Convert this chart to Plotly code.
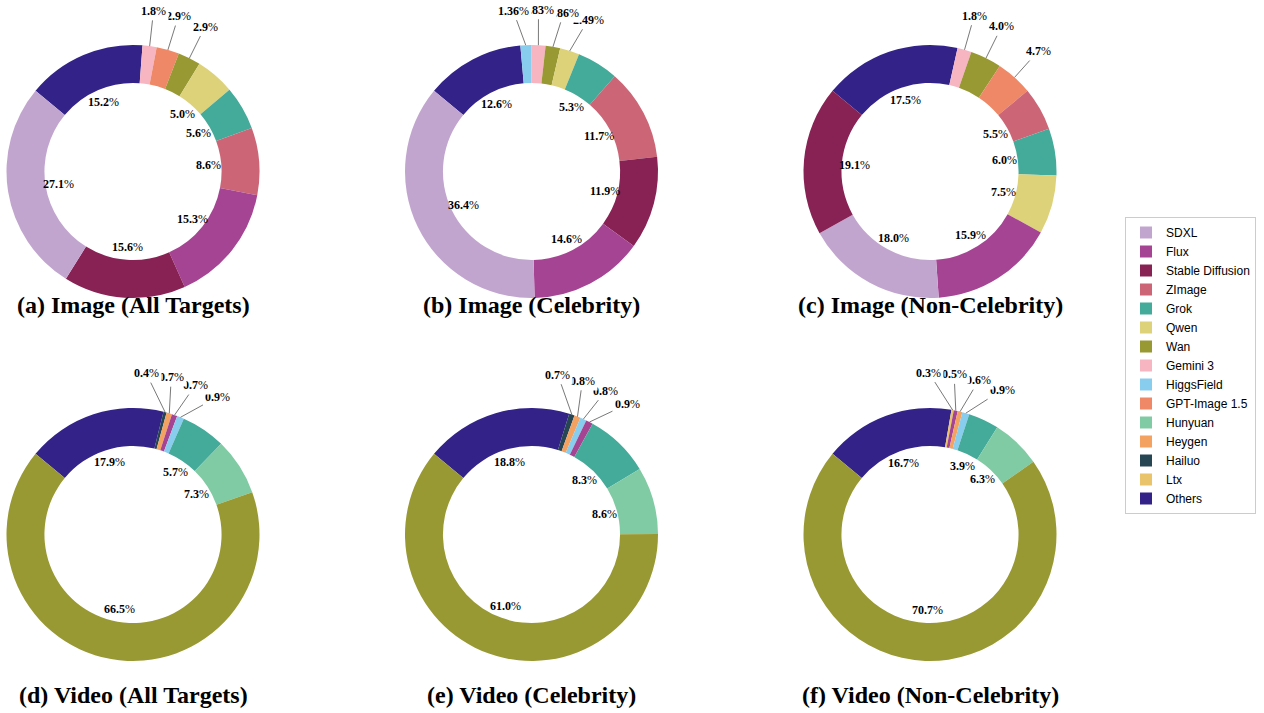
import math
import plotly.graph_objects as go

# ---------------- data ----------------
MODELS = ["SDXL", "Flux", "Stable Diffusion", "ZImage", "Grok", "Qwen", "Wan",
          "Gemini 3", "HiggsField", "GPT-Image 1.5", "Hunyuan", "Heygen",
          "Hailuo", "Ltx", "Others"]
COLORS = ["#C2A5CF", "#A64494", "#882255", "#CC6677", "#44AA99", "#DDD27A", "#999933",
          "#F7B4C1", "#88CCEE", "#EE8866", "#80CBA4", "#F4A261",
          "#264653", "#E9C46A", "#332288"]

TITLES = ["(a) Image (All Targets)", "(b) Image (Celebrity)", "(c) Image (Non-Celebrity)",
          "(d) Video (All Targets)", "(e) Video (Celebrity)", "(f) Video (Non-Celebrity)"]

A_LABELS = ["Others", "Gemini 3", "GPT-Image 1.5", "Wan", "Qwen", "Grok", "ZImage",
            "Flux", "Stable Diffusion", "SDXL"]
A_VALUES = [15.2, 1.8, 2.9, 2.9, 5.0, 5.6, 8.6, 15.3, 15.6, 27.1]

B_LABELS = ["Others", "HiggsField", "Gemini 3", "Wan", "Qwen", "Grok", "ZImage",
            "Stable Diffusion", "Flux", "SDXL"]
B_VALUES = [12.6, 1.36, 1.83, 1.86, 2.49, 5.3, 11.7, 11.9, 14.6, 36.4]

C_LABELS = ["Others", "Gemini 3", "Wan", "GPT-Image 1.5", "ZImage", "Grok", "Qwen",
            "Flux", "SDXL", "Stable Diffusion"]
C_VALUES = [17.5, 1.8, 4.0, 4.7, 5.5, 6.0, 7.5, 15.9, 18.0, 19.1]

D_LABELS = ["Others", "Hailuo", "Heygen", "Flux", "HiggsField", "Grok", "Hunyuan", "Wan"]
D_VALUES = [17.9, 0.4, 0.7, 0.7, 0.9, 5.7, 7.3, 66.5]

E_LABELS = ["Others", "Hailuo", "Heygen", "HiggsField", "Flux", "Grok", "Hunyuan", "Wan"]
E_VALUES = [18.8, 0.7, 0.8, 0.8, 0.9, 8.3, 8.6, 61.0]

F_LABELS = ["Others", "Ltx", "Flux", "Heygen", "HiggsField", "Grok", "Hunyuan", "Wan"]
F_VALUES = [16.7, 0.3, 0.5, 0.6, 0.9, 3.9, 6.3, 70.7]

CHARTS = [(A_LABELS, A_VALUES), (B_LABELS, B_VALUES), (C_LABELS, C_VALUES),
          (D_LABELS, D_VALUES), (E_LABELS, E_VALUES), (F_LABELS, F_VALUES)]
OUTSIDE_BELOW = [5, 5, 5, 2, 2, 2]   # values below this get an outside label

# ---------------- layout / style ----------------
W, H = 1264, 713
R = 126.5                 # donut outer radius, px
HOLE = 0.70
ROT = -50.4               # start angle (deg, clockwise from 12 o'clock)
CX = [133, 531.5, 930]
CY = [171.5, 534.5]
TITLE_Y = [305, 695]
IN_R = 0.60               # inside label radius (fraction of R)
OUT_R = 1.28              # outside label radius
MIN_GAP = 9.0             # min angular gap between outside labels (deg)
LABEL_FONT = dict(family="Liberation Serif", size=12, color="black")

color_of = dict(zip(MODELS, COLORS))


def fmt(v):
    s = f"{v:.2f}".rstrip("0")
    if s.endswith("."):
        s += "0"
    return f"<b>{s}</b>%"


def mids(values, rot):
    total = sum(values)
    cum, out = 0.0, []
    for v in values:
        a0 = rot + 360 * cum / total
        cum += v
        a1 = rot + 360 * cum / total
        out.append((a0 + a1) / 2)
    return out


def spread(angles, gap):
    clusters = [[a] for a in angles]

    def pos(c):
        m = sum(c) / len(c)
        n = len(c)
        return [m + (i - (n - 1) / 2) * gap for i in range(n)]

    changed = True
    while changed:
        changed = False
        for i in range(len(clusters) - 1):
            if pos(clusters[i + 1])[0] - pos(clusters[i])[-1] < gap - 1e-9:
                clusters[i] = clusters[i] + clusters[i + 1]
                del clusters[i + 1]
                changed = True
                break
    out = []
    for c in clusters:
        out.extend(pos(c))
    return out


def px(cx, cy, ang, r):
    t = math.radians(ang)
    return cx + r * math.sin(t), cy - r * math.cos(t)


fig = go.Figure()

# legend-order carrier (invisible, tiny)
fig.add_trace(go.Pie(labels=MODELS, values=[1] * len(MODELS),
                     marker=dict(colors=COLORS, line=dict(width=0)),
                     domain=dict(x=[0, 0.00005], y=[0, 0.00005]),
                     sort=False, textinfo="none", hoverinfo="skip"))

annotations = []
for k, ((labels, values), title) in enumerate(zip(CHARTS, TITLES)):
    cx = CX[k % 3]
    cy = CY[k // 3]
    fig.add_trace(go.Pie(
        labels=labels, values=values, hole=HOLE, sort=False,
        direction="clockwise", rotation=ROT,
        marker=dict(colors=[color_of[l] for l in labels], line=dict(width=0)),
        textinfo="none", hoverinfo="label+value",
        domain=dict(x=[(cx - R) / W, (cx + R) / W],
                    y=[1 - (cy + R) / H, 1 - (cy - R) / H]),
        name=title))

    m = mids(values, ROT)
    outside = [i for i, v in enumerate(values) if v < OUTSIDE_BELOW[k]]
    inside = [i for i, v in enumerate(values) if v >= OUTSIDE_BELOW[k]]

    for i in inside:
        x, y = px(cx, cy, m[i], IN_R * R)
        annotations.append(dict(x=x / W, y=1 - y / H, xref="paper", yref="paper",
                                text=fmt(values[i]), showarrow=False,
                                font=LABEL_FONT, xanchor="center", yanchor="middle"))

    outside.sort(key=lambda i: m[i])
    new_ang = spread([m[i] for i in outside], MIN_GAP)
    outs = []
    for i, a in zip(outside, new_ang):
        tx, ty = px(cx, cy, m[i], R)
        lx, ly = px(cx, cy, a, OUT_R * R)
        outs.append(dict(x=tx / W, y=1 - ty / H, xref="paper", yref="paper",
                         text=fmt(values[i]), showarrow=True, arrowhead=0,
                         arrowwidth=0.8, arrowcolor="#555555", standoff=0,
                         ax=lx - tx, ay=ly - ty, axref="pixel", ayref="pixel",
                         bgcolor="white", borderpad=2, font=LABEL_FONT))
    annotations.extend(reversed(outs))   # leftmost label drawn last (on top)

    annotations.append(dict(x=cx / W, y=1 - TITLE_Y[k // 3] / H, xref="paper", yref="paper",
                            text=f"<b>{title}</b>", showarrow=False,
                            font=dict(family="Liberation Serif", size=24, color="black"),
                            xanchor="center", yanchor="middle"))

fig.update_layout(
    width=W, height=H,
    margin=dict(l=0, r=0, t=0, b=0),
    paper_bgcolor="white", plot_bgcolor="white",
    annotations=annotations,
    showlegend=True,
    legend=dict(x=1125 / W, y=1 - 217 / H, xanchor="left", yanchor="top",
                bordercolor="#cccccc", borderwidth=1, bgcolor="white",
                font=dict(family="Liberation Sans", size=12, color="black"),
                traceorder="normal"),
)

fig.write_html("out.html", config={"displayModeBar": False},
               post_script="document.body.style.margin='0';")
